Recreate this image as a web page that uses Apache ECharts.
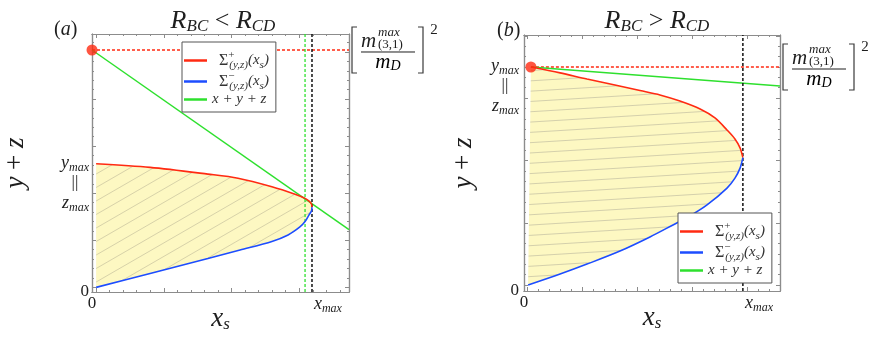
<!DOCTYPE html>
<html>
<head>
<meta charset="utf-8">
<title>x_s vs y+z</title>
<script src="https://cdn.jsdelivr.net/npm/echarts@6/dist/echarts.min.js"></script>
<style>
html,body{margin:0;padding:0;background:#fff;}
#mybox{width:872px;height:341px;}
</style>
</head>
<body>
<div id="mybox"></div>
<script>
// points: (x_s, y+z), each frame scaled to 0..1
// panel (a)  R_BC < R_CD
var aSigmaPlus  = [[0.016,0.497],[0.226,0.483],[0.451,0.457],[0.568,0.441],[0.700,0.408],[0.790,0.379],[0.829,0.363],[0.846,0.351],[0.854,0.341],[0.856,0.329]];
var aSigmaMinus = [[0.016,0.018],[0.226,0.072],[0.451,0.130],[0.576,0.163],[0.700,0.196],[0.763,0.221],[0.809,0.252],[0.829,0.273],[0.844,0.298],[0.854,0.314],[0.856,0.329]];
var aSumLine    = [[0,0.938],[1,0.242]];
var aCorner     = [0, 0.938];
var aXmax       = 0.856;
var aXcross     = 0.829;

// panel (b)  R_BC > R_CD
var bSigmaPlus  = [[0.027,0.875],[0.141,0.852],[0.246,0.828],[0.355,0.805],[0.453,0.783],[0.531,0.766],[0.609,0.742],[0.688,0.711],[0.746,0.676],[0.793,0.629],[0.824,0.594],[0.844,0.559],[0.855,0.521]];
var bSigmaMinus = [[0.016,0.023],[0.141,0.066],[0.246,0.105],[0.375,0.156],[0.492,0.211],[0.582,0.258],[0.648,0.293],[0.715,0.336],[0.793,0.402],[0.824,0.441],[0.844,0.480],[0.855,0.521]];
var bSumLine    = [[0.027,0.875],[1,0.801]];
var bCorner     = [0.027, 0.875];
var bXmax       = 0.855;

// tick labels
var xLabelValues  = [0, 0.918];
var xLabelTexts   = ['{n|0}', '{i|x}{s|max}'];
var aYLabelValues = [0, 0.4225];
var bYLabelValues = [0, 0.801];
var yLabelTexts   = ['{n|0}', '{i|y}{s|max}\n{e|||}\n{i|z}{s|max}'];

// legend
var legendNames = ['Σ+', 'Σ−', 'x+y+z'];
var legendTexts = [
    '{u|Σ}{sp|+}{sb|(y,z)}{n|(x}{sb2|s}{n|)}',
    '{u|Σ}{sp|−}{sb|(y,z)}{n|(x}{sb2|s}{n|)}',
    '{n|x + y + z}'
];

var SERIF = 'Liberation Serif';
var INK = '#1e1e1e';
var FRAME = '#8c8c8c';
var RED = '#ff2a12', BLUE = '#1d4dff', GREEN = '#2ee02e';

// frame tick positions (majors + minors)
function tickList(start, step) {
    var a = [];
    for (var v = start; v <= 1.0001; v += step) a.push(+v.toFixed(4));
    return a;
}
var ticks = [
    {xMaj: tickList(0.016, 0.2634), xMin: tickList(0.016, 0.0527), yMaj: tickList(0.018, 0.1826), yMin: tickList(0.018, 0.0365)},
    {xMaj: tickList(0.012, 0.215),  xMin: tickList(0.012, 0.043),  yMaj: tickList(0.023, 0.2435), yMin: tickList(0.023, 0.0406)}
];

// hatch fill painted on a canvas
function hatch(angleDeg, gap, bg, ink) {
    var c = document.createElement('canvas');
    c.width = 872; c.height = 341;
    var g = c.getContext('2d');
    g.fillStyle = bg;
    g.fillRect(0, 0, c.width, c.height);
    g.strokeStyle = ink;
    g.lineWidth = 0.8;
    var t = Math.tan(angleDeg * Math.PI / 180);
    for (var y0 = 0; y0 < c.height + c.width * t + gap; y0 += gap) {
        g.beginPath();
        g.moveTo(0, y0);
        g.lineTo(c.width, y0 - c.width * t);
        g.stroke();
    }
    return c;
}
var hatchA = hatch(30, 13.5, '#fdf8c2', '#cdc8a2');
var hatchB = hatch(3.5, 10.3, '#fdf8c2', '#c9c5a6');

// rich text pieces: sub/superscripts are shifted with padding
function tok(size, italic, lh, pad, extra) {
    var t = {fontFamily: SERIF, fontSize: size, fontStyle: italic ? 'italic' : 'normal', fontWeight: 'normal', color: INK, lineHeight: lh};
    if (pad) t.padding = pad;
    for (var k in extra || {}) t[k] = extra[k];
    return t;
}
var labelRich = {
    n: tok(17, false, 20),
    i: tok(18, true, 20),
    s: tok(12, true, 10, [10, 0, 0, 0]),
    e: tok(17, false, 20, null, {align: 'center'})
};

function pick(values, texts) {
    return function (v) {
        var best = 0;
        for (var k = 1; k < values.length; k++) {
            if (Math.abs(values[k] - v) < Math.abs(values[best] - v)) best = k;
        }
        return texts[best];
    };
}

function frameAxis(g, pos, list, len) {
    return {
        type: 'value', gridIndex: g, position: pos, min: 0, max: 1,
        axisLine: {show: true, onZero: false, lineStyle: {color: FRAME, width: 1.2}},
        axisTick: {show: true, inside: true, length: len, customValues: list, lineStyle: {color: FRAME, width: 1}},
        axisLabel: {show: false},
        splitLine: {show: false}
    };
}

function xAxesFor(g) {
    var main = frameAxis(g, 'bottom', ticks[g].xMaj, 4);
    main.axisLabel = {show: true, customValues: xLabelValues, formatter: pick(xLabelValues, xLabelTexts), margin: 2, rich: labelRich};
    main.name = '{i|x}{s|s}';
    main.nameLocation = 'middle';
    main.nameGap = 13;
    main.nameMoveOverlap = false;
    main.nameTextStyle = {rich: {i: tok(27, true, 28), s: tok(17, true, 14, [12, 0, 0, 0])}};
    return [main, frameAxis(g, 'bottom', ticks[g].xMin, 2), frameAxis(g, 'top', ticks[g].xMaj, 4), frameAxis(g, 'top', ticks[g].xMin, 2)];
}

function yAxesFor(g, labelValues, margin, gap) {
    var main = frameAxis(g, 'left', ticks[g].yMaj, 4);
    main.axisLabel = {show: true, customValues: labelValues, formatter: pick(labelValues, yLabelTexts), margin: margin, rich: labelRich};
    main.name = '{i|y}{p| + }{i|z}';
    main.nameLocation = 'middle';
    main.nameRotate = 90;
    main.nameGap = gap;
    main.nameMoveOverlap = false;
    main.nameTextStyle = {rich: {i: tok(27, true, 28), p: tok(27, false, 28)}};
    return [main, frameAxis(g, 'left', ticks[g].yMin, 2), frameAxis(g, 'right', ticks[g].yMaj, 4), frameAxis(g, 'right', ticks[g].yMin, 2)];
}

// yellow region between the two boundaries
function regionSeries(g, upper, lower, img) {
    return {
        type: 'custom', name: 'region' + g, xAxisIndex: g * 4, yAxisIndex: g * 4,
        silent: true, z: 1, data: [[0, 0]],
        renderItem: function (params, api) {
            var pts = upper.concat(lower.slice().reverse()).map(function (p) { return api.coord(p); });
            return {type: 'polygon', shape: {points: pts}, style: {fill: {image: img, repeat: 'no-repeat'}, stroke: null}};
        }
    };
}

function lineSeries(g, name, data, color, width, dash, z) {
    return {
        type: 'line', name: name, xAxisIndex: g * 4, yAxisIndex: g * 4,
        data: data, symbol: 'none', silent: true, z: z || 3,
        lineStyle: {color: color, width: width, type: dash || 'solid'},
        itemStyle: {color: color}
    };
}

function curve(g, name, data, color) {
    var s = lineSeries(g, name, data, color, 1.6, null, 4);
    s.smooth = 0.3;
    return s;
}

function dot(g, p) {
    return {
        type: 'scatter', name: 'corner' + g, xAxisIndex: g * 4, yAxisIndex: g * 4,
        data: [p], symbolSize: 11, itemStyle: {color: RED}, z: 6, silent: true
    };
}

var legendRich = {
    u: tok(16, false, 20, [0, 0, 0, 7], {color: '#333'}),
    sp: tok(11, false, 10, [0, 0, 10, 0], {color: '#333', width: 1}),
    sb: tok(11, true, 10, [10, 0, 0, 0], {color: '#333'}),
    n: tok(15, true, 20, null, {color: '#333'}),
    sb2: tok(11, true, 10, [9, 0, 0, 0], {color: '#333'})
};

function legendAt(left, top) {
    return {
        data: legendNames, orient: 'vertical', left: left, top: top,
        icon: 'rect', itemWidth: 23, itemHeight: 2.5, itemGap: 0,
        padding: [8, 7, 5, 2],
        backgroundColor: '#fff', borderColor: '#555', borderWidth: 1, borderRadius: 0,
        selectedMode: false, z: 10,
        formatter: function (name) { return legendTexts[legendNames.indexOf(name)]; },
        textStyle: {rich: legendRich}
    };
}

var titleRich = {
    R: tok(26, true, 28),
    s: tok(17, true, 16, [12, 0, 0, 0]),
    o: tok(26, false, 28),
    p: tok(20, false, 24),
    a: tok(20, true, 24)
};

var mycharts = echarts.init(document.getElementById('mybox'));
var option = {
    animation: false,
    backgroundColor: '#fff',
    title: [
        {text: '{p|(}{a|a}{p|)}', left: 49, top: 13, textStyle: {fontWeight: 'normal', rich: titleRich}},
        {text: '{R|R}{s|BC}{o| < }{R|R}{s|CD}', left: 218, top: 2, textAlign: 'center', textStyle: {fontWeight: 'normal', rich: titleRich}},
        {text: '{p|(}{a|b}{p|)}', left: 492, top: 14, textStyle: {fontWeight: 'normal', rich: titleRich}},
        {text: '{R|R}{s|BC}{o| > }{R|R}{s|CD}', left: 652, top: 2, textAlign: 'center', textStyle: {fontWeight: 'normal', rich: titleRich}}
    ],
    legend: [legendAt(182, 42), legendAt(678, 213)],
    grid: [
        {left: 92, top: 34, width: 257, height: 258, outerBoundsMode: 'none'},
        {left: 524, top: 35, width: 256, height: 256, outerBoundsMode: 'none'}
    ],
    xAxis: xAxesFor(0).concat(xAxesFor(1)),
    yAxis: yAxesFor(0, aYLabelValues, 3, 62).concat(yAxesFor(1, bYLabelValues, 5, 46)),
    series: [
        regionSeries(0, aSigmaPlus, aSigmaMinus, hatchA),
        lineSeries(0, 'corner level a', [aCorner, [1, aCorner[1]]], RED, 1.5, [3, 2]),
        lineSeries(0, 'x+y+z', aSumLine, GREEN, 1.5),
        lineSeries(0, 'cross a', [[aXcross, 0], [aXcross, 1]], GREEN, 1.3, [3, 2]),
        lineSeries(0, 'xmax a', [[aXmax, 0], [aXmax, 1]], '#111', 1.5, [3, 2]),
        curve(0, 'Σ+', aSigmaPlus, RED),
        curve(0, 'Σ−', aSigmaMinus, BLUE),
        dot(0, aCorner),

        regionSeries(1, bSigmaPlus, bSigmaMinus, hatchB),
        lineSeries(1, 'corner level b', [bCorner, [1, bCorner[1]]], RED, 1.5, [3, 2]),
        lineSeries(1, 'x+y+z', bSumLine, GREEN, 1.5),
        lineSeries(1, 'xmax b', [[bXmax, 0], [bXmax, 1]], '#111', 1.5, [3, 2]),
        curve(1, 'Σ+', bSigmaPlus, RED),
        curve(1, 'Σ−', bSigmaMinus, BLUE),
        dot(1, bCorner)
    ]
};
mycharts.setOption(option);

// [ m(3,1)max / mD ]^2 label, hung on the right end of the red dashed level
function bracket(p) {
    var st = {stroke: '#3a3a3a', lineWidth: 1.2, fill: null};
    return {
        type: 'group', x: p[0], y: p[1], silent: true,
        children: [
            {type: 'polyline', shape: {points: [[8, -23], [3, -23], [3, 23], [8, 23]]}, style: st},
            {type: 'polyline', shape: {points: [[69, -23], [74, -23], [74, 23], [69, 23]]}, style: st},
            {type: 'text', x: 12, y: -9, style: {text: 'm', font: 'italic 21px "Liberation Serif"', fill: INK, verticalAlign: 'middle'}},
            {type: 'text', x: 29, y: -17, style: {text: 'max', font: 'italic 13px "Liberation Serif"', fill: INK, verticalAlign: 'middle'}},
            {type: 'text', x: 29, y: -5, style: {text: '(3,1)', font: '13px "Liberation Serif"', fill: INK, verticalAlign: 'middle'}},
            {type: 'line', shape: {x1: 12, y1: 2, x2: 66, y2: 2}, style: {stroke: INK, lineWidth: 1}},
            {type: 'text', x: 39, y: 12, style: {
                text: '{i|m}{s|D}', align: 'center', verticalAlign: 'middle',
                rich: {i: tok(21, true, 20), s: tok(14, true, 12, [9, 0, 0, 0])}
            }},
            {type: 'text', x: 85, y: -20, style: {text: '2', font: '15px "Liberation Serif"', fill: INK, align: 'center', verticalAlign: 'middle'}}
        ]
    };
}
var pa = mycharts.convertToPixel({xAxisIndex: 0, yAxisIndex: 0}, [1, aCorner[1]]);
var pb = mycharts.convertToPixel({xAxisIndex: 4, yAxisIndex: 4}, [1, bCorner[1]]);
mycharts.setOption({graphic: [bracket(pa), bracket(pb)]});
</script>
</body>
</html>
